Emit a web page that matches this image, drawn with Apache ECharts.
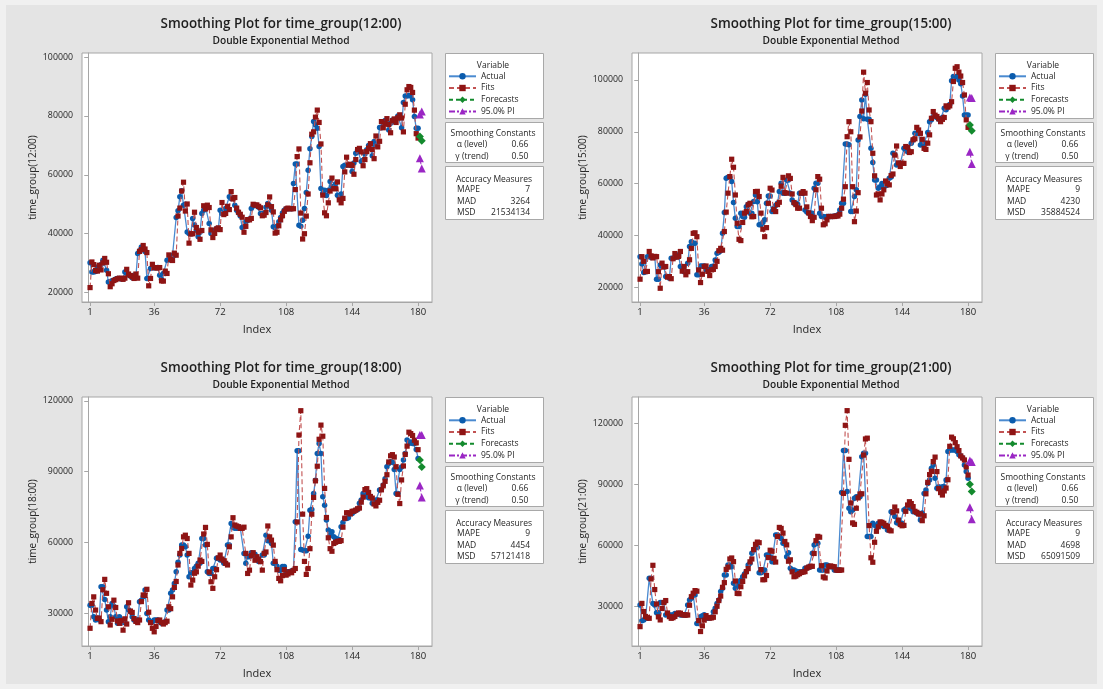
<!DOCTYPE html>
<html><head><meta charset="utf-8">
<script src="https://cdn.jsdelivr.net/npm/echarts@6/dist/echarts.min.js"></script>
<style>html,body{margin:0;padding:0;background:#efefef;}#c{width:1103px;height:689px;}</style>
</head><body><div id="c"></div>
<script>
// ---------- DATA (values in thousands) ----------
const xTickLabels = [1, 36, 72, 108, 144, 180];
const forecastIndex = [181, 182];
const variables = ['12:00', '15:00', '18:00', '21:00'];

const actual1200 = [
30.1,27.0,27.0,27.2,28.7,28.0,29.5,31.0,30.5,27.6,
23.6,23.8,24.0,24.3,24.6,24.8,24.8,24.6,24.8,27.0,
26.5,26.0,25.6,25.0,25.9,25.2,33.3,34.2,35.5,35.0,
34.0,24.8,24.8,28.2,28.4,28.4,28.4,28.5,25.9,24.5,
26.5,26.5,31.0,31.2,31.0,32.7,32.7,45.5,47.8,52.6,
54.6,49.7,50.0,40.6,40.1,40.0,45.2,43.0,41.2,39.0,
40.5,46.9,48.0,49.2,49.0,43.5,40.1,40.1,41.2,41.8,
41.5,48.0,46.9,46.9,48.6,48.3,52.6,52.0,52.2,49.7,
48.0,47.0,46.0,42.1,42.4,44.1,44.5,45.0,48.6,49.4,
49.7,49.4,49.0,46.9,46.5,47.0,49.0,50.3,49.5,48.0,
42.4,42.0,42.5,44.1,45.5,47.0,48.0,48.5,48.5,48.5,
48.5,57.1,63.7,63.7,42.9,42.5,44.6,48.6,54.0,61.6,
68.9,73.0,78.1,77.0,75.8,69.6,55.4,53.7,54.8,53.0,
54.8,57.7,56.0,55.5,57.0,53.1,52.5,53.5,62.8,63.3,
63.3,63.5,63.3,61.1,64.0,67.3,68.5,68.0,64.5,65.0,
67.1,68.5,70.0,69.0,66.5,71.3,70.0,71.0,76.1,76.0,
77.0,78.5,77.5,75.2,77.5,78.6,78.0,79.0,80.0,79.5,
76.0,84.6,86.8,86.8,87.0,86.8,85.5,79.8,75.8,75.8];
const fits1200 = [
21.7,30.4,29.5,27.5,27.3,29.3,27.7,30.1,31.6,30.3,
26.4,22.0,23.0,24.1,24.4,24.7,24.9,24.8,24.5,24.9,
27.9,26.3,25.8,25.4,24.8,26.3,24.9,34.0,34.6,36.0,
34.8,33.6,22.3,24.8,29.6,28.5,28.4,28.4,28.5,24.0,
23.9,27.3,26.5,32.8,31.3,30.9,33.4,32.7,46.0,48.7,
54.5,57.5,47.7,50.1,36.8,39.9,40.0,47.3,42.1,40.5,
38.1,41.1,49.5,48.4,49.7,48.9,41.3,38.7,40.1,41.6,
42.0,41.4,50.6,46.5,46.9,49.3,48.2,54.3,51.8,52.3,
48.7,47.3,46.6,45.6,40.5,42.5,44.8,44.7,45.2,50.0,
49.7,49.8,49.3,48.8,46.1,46.3,47.2,49.8,52.5,49.2,
47.4,40.2,40.5,42.7,44.7,46.1,47.6,48.4,48.7,48.5,
48.5,48.5,55.0,66.2,68.8,47.0,38.2,40.0,46.0,53.5,
64.1,73.8,74.6,79.6,82.0,77.8,70.5,53.1,47.1,46.1,
50.5,54.5,58.9,55.3,55.3,57.6,51.5,50.5,52.0,61.0,
66.0,63.3,63.6,63.2,60.2,65.2,68.6,69.0,67.8,63.1,
65.2,67.9,69.1,70.6,68.6,65.5,73.2,69.5,71.4,78.1,
76.0,77.4,79.1,77.1,74.3,78.4,79.0,77.8,79.4,80.4,
79.3,74.6,84.0,88.9,90.0,89.7,88.0,82.0,74.0,72.5];
const forecast1200 = [73.0, 71.6];
const piUpper1200 = [80.5, 81.5];
const piLower1200 = [65.6, 62.2];

const actual1500 = [
31.8,29.0,25.7,26.0,31.8,32.0,31.5,31.8,31.8,23.1,
23.1,28.6,28.0,28.0,24.1,24.1,23.5,31.2,31.2,31.5,
31.8,32.5,28.0,28.0,26.0,26.0,29.3,35.7,37.6,37.0,
37.0,24.8,24.8,28.2,28.2,28.2,26.7,26.7,26.7,28.0,
28.0,30.5,33.1,33.5,34.1,40.8,48.8,62.1,62.4,62.4,
60.8,52.7,46.6,43.4,43.4,48.6,47.3,47.0,51.1,52.0,
48.6,48.6,53.1,55.6,53.0,44.1,44.1,45.0,46.0,52.4,
55.2,55.2,49.2,50.5,51.5,52.4,56.9,60.1,56.3,56.3,
61.4,61.4,56.3,53.7,52.4,52.4,52.0,56.3,56.3,56.3,
49.8,49.0,48.6,48.6,48.6,58.2,60.1,60.1,48.6,47.3,
47.3,47.0,47.3,47.3,47.3,47.3,47.5,47.5,48.0,49.8,
52.4,52.4,75.3,75.3,75.0,49.2,49.2,55.0,57.6,76.8,
85.9,92.3,85.0,94.5,84.8,84.8,73.6,68.1,61.4,61.4,
58.2,58.8,60.0,59.2,59.2,59.5,62.1,62.5,71.7,71.2,
67.2,67.8,67.8,67.8,73.6,73.0,72.3,72.3,75.6,76.8,
79.4,79.4,79.4,74.9,75.6,75.6,75.6,79.7,83.9,84.6,
85.9,85.9,85.5,84.8,84.8,85.5,89.1,88.5,89.7,90.5,
99.7,101.3,101.3,101.3,100.0,98.5,93.8,86.5,86.5,86.5];
const fits1500 = [
23.1,31.8,30.0,26.0,26.1,33.8,32.1,31.3,31.9,31.8,
26.0,19.6,29.3,27.8,28.0,23.9,24.1,23.3,31.0,33.0,
31.6,31.9,33.8,26.2,28.0,24.8,26.0,30.6,35.0,40.8,
41.0,39.5,26.7,21.8,25.0,28.0,28.2,26.1,24.5,26.7,
26.9,28.0,30.0,34.1,35.0,34.3,41.5,49.0,56.3,62.7,
69.4,66.3,55.6,44.7,38.5,38.0,45.0,48.6,49.2,51.8,
52.4,47.2,47.3,56.9,57.0,55.0,48.6,42.4,39.5,43.0,
52.4,58.2,57.5,50.0,49.2,51.9,52.8,59.0,62.4,56.5,
56.3,63.0,62.0,56.0,52.7,51.9,50.5,50.5,56.3,56.9,
56.3,51.0,48.7,47.3,45.7,47.0,57.6,62.7,61.7,50.5,
44.1,44.5,46.0,47.3,47.3,47.3,47.3,47.5,47.5,48.2,
50.5,54.0,58.8,78.1,83.9,80.0,58.8,45.3,49.4,56.5,
78.0,88.0,103.0,94.9,99.0,88.4,83.9,71.7,63.0,55.6,
56.0,53.7,56.0,57.6,61.0,60.0,59.5,63.1,63.7,71.0,
74.5,68.0,66.6,67.8,67.8,74.3,74.0,72.0,72.3,76.9,
77.3,81.7,80.7,79.4,77.1,73.6,73.2,75.6,78.8,85.2,
87.8,86.4,85.9,85.0,83.9,84.8,85.5,90.0,89.5,90.0,
91.6,99.4,104.5,105.1,103.0,101.5,99.0,94.2,84.6,81.7];
const forecast1500 = [82.6, 80.4];
const piUpper1500 = [93.2, 93.0];
const piLower1500 = [72.3, 67.6];

const actual1800 = [
33.5,33.5,28.6,27.2,28.0,27.2,41.3,41.3,35.9,31.4,
26.5,28.6,34.2,33.0,28.6,25.8,28.6,26.0,27.2,26.0,
32.8,31.5,30.7,28.6,27.2,27.2,27.2,34.9,35.6,37.0,
39.9,30.0,27.2,26.5,26.5,27.2,27.2,27.2,26.5,25.8,
26.0,26.5,31.4,31.4,38.5,39.9,42.7,47.6,51.6,54.7,
58.9,58.9,58.2,54.7,45.5,47.2,47.2,49.0,50.0,51.2,
51.2,61.7,61.7,58.9,47.6,46.9,46.9,49.0,49.0,53.3,
53.3,52.6,52.6,51.2,51.2,58.9,58.9,68.1,66.4,66.0,
66.0,66.0,66.0,66.0,55.4,51.2,54.0,54.0,55.7,55.0,
55.0,53.3,52.0,52.0,54.7,54.7,63.1,60.8,60.8,59.6,
51.2,51.2,50.0,48.3,48.3,49.8,49.8,47.6,47.6,47.6,
48.0,48.3,68.8,98.8,98.8,57.1,56.8,56.5,56.5,62.7,
73.7,74.0,80.8,86.4,97.7,101.9,97.7,79.4,75.8,69.5,
65.3,63.1,64.6,62.4,61.8,61.3,61.3,66.7,68.5,70.2,
70.2,70.5,72.3,72.3,73.0,73.7,74.0,76.6,78.0,80.8,
80.8,79.6,79.0,79.0,76.6,76.6,78.0,78.0,82.2,82.5,
84.3,87.0,92.1,93.5,94.2,94.0,90.9,80.8,80.8,90.9,
92.0,94.9,97.7,103.4,101.9,102.6,101.9,101.9,99.4,95.6];
const fits1800 = [
23.7,34.2,37.0,31.4,27.9,28.0,26.5,40.0,44.4,38.5,
32.8,25.1,27.5,35.6,32.5,26.8,25.8,27.0,22.9,27.7,
25.5,34.5,31.0,30.4,27.8,26.6,26.1,27.2,35.0,37.8,
37.6,40.2,30.5,26.1,23.7,22.2,24.5,27.0,27.2,26.2,
25.5,26.1,26.7,32.8,32.0,37.0,41.0,43.5,50.5,55.4,
57.5,62.4,63.1,61.7,55.4,42.0,44.1,47.0,47.6,50.0,
52.6,52.0,63.6,66.4,59.2,47.5,43.4,40.6,45.5,48.5,
53.5,54.7,53.0,52.3,51.2,50.5,58.2,62.4,70.5,67.4,
67.0,66.7,66.0,66.0,66.5,55.4,46.9,48.3,54.5,55.7,
52.5,54.0,53.0,51.9,48.3,55.4,56.0,67.0,62.4,61.0,
58.9,52.0,48.5,44.8,43.8,46.0,48.5,46.2,46.7,47.6,
47.2,48.2,49.0,68.7,105.5,115.8,72.0,52.0,46.5,49.0,
57.4,72.0,79.1,86.1,92.3,103.7,109.7,105.0,82.9,70.6,
62.0,57.4,56.3,59.6,60.1,60.5,60.5,60.8,66.5,70.3,
72.6,72.6,72.1,73.2,73.3,73.7,74.3,74.6,77.1,79.2,
82.4,82.8,81.2,79.5,78.8,76.3,75.5,77.0,77.9,82.3,
84.0,85.9,88.7,94.1,96.7,97.2,96.2,92.1,80.4,76.5,
86.5,92.4,97.3,100.8,106.7,106.1,105.3,103.3,102.2,99.3];
const forecast1800 = [94.9, 92.0];
const piUpper1800 = [105.5, 105.5];
const piLower1800 = [84.1, 79.1];

const actual2100 = [
30.8,23.1,23.5,24.3,24.3,43.9,43.9,31.6,30.8,27.0,
27.0,32.0,32.0,32.0,25.9,26.5,25.9,25.9,25.9,26.7,
26.7,26.5,25.9,25.9,25.9,25.9,30.8,33.3,34.1,35.7,
35.7,21.8,21.8,25.1,25.5,26.0,24.3,24.3,24.5,24.8,
27.5,29.2,31.6,33.3,37.4,39.0,45.5,45.5,50.5,50.5,
49.6,41.5,39.0,40.1,42.3,43.0,44.7,46.0,47.2,50.5,
51.3,56.2,57.8,59.0,59.0,46.7,46.7,47.2,48.0,55.4,
55.4,54.5,52.0,52.0,65.2,65.2,64.4,63.5,61.1,61.1,
54.5,56.5,48.8,48.0,48.0,47.5,47.2,47.2,47.2,47.2,
48.8,49.0,49.5,49.5,56.2,60.3,61.1,61.1,48.0,48.0,
48.0,50.5,50.5,50.0,49.6,49.6,48.0,48.0,48.0,48.0,
86.0,106.6,106.6,86.5,78.3,76.6,77.5,83.2,84.0,84.0,
84.0,103.6,105.3,105.3,64.4,64.4,64.4,70.9,70.0,69.3,
70.9,70.1,70.1,69.3,69.5,67.6,67.6,76.6,76.0,74.2,
71.2,70.9,70.9,70.9,77.5,78.0,79.1,78.5,78.0,76.6,
76.6,75.8,75.8,72.5,76.0,85.6,87.3,90.5,92.2,97.9,
99.5,93.0,88.1,88.9,87.3,88.9,88.9,92.2,106.1,106.9,
106.9,106.9,106.9,106.1,104.5,104.0,103.0,99.5,96.3,93.0];
const fits2100 = [
20.2,31.6,27.6,25.2,24.6,24.3,43.6,50.3,38.4,31.3,
25.0,23.5,29.1,32.0,33.0,26.9,25.1,24.3,24.6,25.2,
26.3,26.9,26.8,26.1,25.9,25.9,25.9,30.7,34.9,36.6,
37.9,37.6,23.2,17.8,20.6,23.4,25.6,24.7,24.4,24.5,
24.8,27.5,30.2,33.0,35.2,39.5,41.8,48.3,49.4,53.4,
53.9,52.1,42.6,36.5,36.4,39.8,42.4,45.1,47.2,48.7,
52.0,53.4,58.0,60.6,61.7,61.4,48.2,43.2,43.3,45.3,
54.1,57.7,57.2,53.7,51.9,64.4,68.9,68.4,66.1,62.0,
60.3,52.3,53.0,47.1,44.7,45.0,45.7,46.2,46.8,47.0,
47.2,48.9,49.4,49.8,49.8,56.1,62.4,64.5,64.1,50.1,
44.6,44.1,47.5,49.7,50.0,49.7,49.6,48.0,47.8,47.9,
48.0,85.6,119.0,126.2,102.3,80.9,71.1,70.4,78.3,83.4,
85.3,85.4,104.4,112.3,112.7,69.8,54.0,51.8,61.6,67.0,
69.2,71.6,71.4,70.9,69.9,69.5,67.6,67.2,76.4,78.9,
77.0,72.5,70.3,69.7,69.9,76.8,79.9,81.5,80.6,79.1,
76.8,76.3,75.5,75.5,72.2,74.6,85.4,91.0,94.8,96.4,
101.2,103.4,96.3,87.9,86.0,84.8,86.8,88.2,92.3,108.7,
113.2,112.4,110.5,108.5,106.6,104.0,103.0,102.0,98.6,94.6];
const forecast2100 = [90.1, 86.5];
const piUpper2100 = [101.7, 101.0];
const piLower2100 = [78.8, 72.9];

const yTicksLow = [20, 40, 60, 80, 100];
const yTicksHigh = [30, 60, 90, 120];

const alphaLevel = ['0.66', '0.66', '0.66', '0.66'];
const gammaTrend = ['0.50', '0.50', '0.50', '0.50'];
const mapeValues = ['7', '9', '9', '9'];
const madValues = ['3264', '4230', '4454', '4698'];
const msdValues = ['21534134', '35884524', '57121418', '65091509'];

const legendNames = ['Actual', 'Fits', 'Forecasts', '95.0% PI'];

// ---------- LAYOUT / STYLE ----------
const FONT = "'Open Sans','Noto Sans',sans-serif";
const TXT = '#262626';
const AXC = '#a6a6a6';
const C_ACT = '#0b5cad', C_ACT_LINE = '#4a8ad0';
const C_FIT = '#8e1414', C_FIT_LINE = '#c25252';
const C_FC = '#138a2d', C_PI = '#9a26c4';

const panels = [
  {act: actual1200, fit: fits1200, fc: forecast1200, up: piUpper1200, lo: piLower1200, ticks: yTicksLow,
   gx: 82, gy: 53, yMin: 16.8, yMax: 101.4},
  {act: actual1500, fit: fits1500, fc: forecast1500, up: piUpper1500, lo: piLower1500, ticks: yTicksLow,
   gx: 632, gy: 53, yMin: 14.3, yMax: 110.4},
  {act: actual1800, fit: fits1800, fc: forecast1800, up: piUpper1800, lo: piLower1800, ticks: yTicksHigh,
   gx: 82, gy: 397, yMin: 16.2, yMax: 121.6},
  {act: actual2100, fit: fits2100, fc: forecast2100, up: piUpper2100, lo: piLower2100, ticks: yTicksHigh,
   gx: 632, gy: 397, yMin: 10.7, yMax: 132.9}
];
const GW = 350, GH = 249;

function pairs(arr, start) { return arr.map((v, i) => [start + i, v]); }
function pairsAt(arr, idx) { return arr.map((v, i) => [idx[i], v]); }

const grids = [], xAxes = [], yAxes = [], series = [], legends = [], titles = [], graphics = [];

graphics.push({type: 'rect', z: -10, shape: {x: 0, y: 0, width: 1103, height: 5}, style: {fill: '#f0f0f0'}});
graphics.push({type: 'rect', z: -10, shape: {x: 0, y: 0, width: 6, height: 689}, style: {fill: '#f0f0f0'}});
graphics.push({type: 'rect', z: -10, shape: {x: 1097, y: 0, width: 6, height: 689}, style: {fill: '#f0f0f0'}});
graphics.push({type: 'rect', z: -10, shape: {x: 0, y: 684, width: 1103, height: 5}, style: {fill: '#f0f0f0'}});

function txt(x, y, text, opt) {
  return Object.assign({type: 'text', z: 10, x: x, y: y,
    style: Object.assign({text: text, fill: TXT, fontFamily: FONT, fontSize: 8.5,
      align: 'left', verticalAlign: 'middle'}, opt || {})});
}

panels.forEach((p, k) => {
  grids.push({left: p.gx, top: p.gy, width: GW, height: GH, show: true,
    backgroundColor: '#ffffff', borderColor: AXC, borderWidth: 1});
  xAxes.push({gridIndex: k, type: 'value', min: -3.4, max: 187.6,
    name: 'Index', nameLocation: 'middle', nameGap: 22,
    nameTextStyle: {fontSize: 11, color: TXT, fontFamily: FONT},
    axisLine: {show: true, lineStyle: {color: AXC}},
    axisTick: {show: true, length: 4, lineStyle: {color: AXC}, customValues: xTickLabels},
    axisLabel: {fontSize: 9.5, color: TXT, fontFamily: FONT, margin: 5, customValues: xTickLabels},
    splitLine: {show: false}});
  yAxes.push({gridIndex: k, type: 'value', min: p.yMin, max: p.yMax,
    name: 'time_group(' + variables[k] + ')', nameLocation: 'middle', nameGap: 44,
    nameTextStyle: {fontSize: 10, color: TXT, fontFamily: FONT},
    axisLine: {show: true, lineStyle: {color: AXC}},
    axisTick: {show: true, length: 4, lineStyle: {color: AXC}, customValues: p.ticks},
    axisLabel: {fontSize: 8.8, color: TXT, fontFamily: FONT, margin: 9, customValues: p.ticks,
      formatter: v => String(Math.round(v * 1000))},
    splitLine: {show: false}});

  series.push({name: 'Actual', type: 'line', xAxisIndex: k, yAxisIndex: k,
    data: pairs(p.act, 1), symbol: 'circle', symbolSize: 5.5, showAllSymbol: true,
    lineStyle: {color: C_ACT_LINE, width: 1.3}, itemStyle: {color: C_ACT}, z: 2});
  series.push({name: 'Fits', type: 'line', xAxisIndex: k, yAxisIndex: k,
    data: pairs(p.fit, 1), symbol: 'rect', symbolSize: 5.2, showAllSymbol: true,
    lineStyle: {color: C_FIT_LINE, width: 1.1, type: [5, 3]}, itemStyle: {color: C_FIT}, z: 3});
  series.push({name: 'Forecasts', type: 'line', xAxisIndex: k, yAxisIndex: k,
    data: pairsAt(p.fc, forecastIndex), symbol: 'diamond', symbolSize: 8,
    lineStyle: {color: C_FC, width: 1, type: [4, 3]}, itemStyle: {color: C_FC}, z: 4});
  series.push({name: '95.0% PI', type: 'line', xAxisIndex: k, yAxisIndex: k,
    data: pairsAt(p.up, forecastIndex), symbol: 'triangle', symbolSize: 8,
    lineStyle: {color: C_PI, width: 1, type: [6, 2, 2, 2]}, itemStyle: {color: C_PI}, z: 4});
  series.push({name: '95.0% PI', type: 'line', xAxisIndex: k, yAxisIndex: k,
    data: pairsAt(p.lo, forecastIndex), symbol: 'triangle', symbolSize: 8,
    lineStyle: {color: C_PI, width: 1, type: [6, 2, 2, 2]}, itemStyle: {color: C_PI}, z: 4});

  const bx = p.gx + 363, by = p.gy;
  const tcx = p.gx + 199;
  titles.push({text: 'Smoothing Plot for time_group(' + variables[k] + ')',
    subtext: 'Double Exponential Method', left: tcx, top: by - 37, textAlign: 'center', padding: 0,
    itemGap: 3,
    textStyle: {fontSize: 13.4, fontWeight: 600, color: '#1e1e1e', fontFamily: FONT, lineHeight: 16},
    subtextStyle: {fontSize: 10.2, fontWeight: 600, color: '#1e1e1e', fontFamily: FONT, lineHeight: 12}});

  legends.push({orient: 'vertical', left: bx + 3, top: by + 18.3, padding: 0,
    itemWidth: 27, itemHeight: 8, itemGap: 1.7, selectedMode: false,
    textStyle: {fontSize: 8.5, color: TXT, fontFamily: FONT, lineHeight: 10, padding: [0, 0, 0, 0]},
    data: legendNames});

  const box = (y, h) => ({type: 'rect', z: 1, shape: {x: bx + 0.5, y: by + y + 0.5, width: 98, height: h},
    style: {fill: '#ffffff', stroke: '#a8a8a8', lineWidth: 1}});
  graphics.push(box(0, 65), box(69, 40), box(113, 53));
  const d = 1.8;
  graphics.push(txt(bx + 48, by + 10.8 + d, 'Variable', {align: 'center'}));
  graphics.push(txt(bx + 48, by + 78.6 + d, 'Smoothing Constants', {align: 'center'}));
  graphics.push(txt(bx + 27, by + 89.6 + d, 'α (level)', {align: 'center'}));
  graphics.push(txt(bx + 75, by + 89.6 + d, alphaLevel[k], {align: 'center'}));
  graphics.push(txt(bx + 27, by + 101.5 + d, 'γ (trend)', {align: 'center'}));
  graphics.push(txt(bx + 75, by + 101.5 + d, gammaTrend[k], {align: 'center'}));
  graphics.push(txt(bx + 49, by + 124.3 + d, 'Accuracy Measures', {align: 'center'}));
  graphics.push(txt(bx + 12, by + 134.7 + d, 'MAPE'));
  graphics.push(txt(bx + 85, by + 134.7 + d, mapeValues[k], {align: 'right'}));
  graphics.push(txt(bx + 12, by + 146.5 + d, 'MAD'));
  graphics.push(txt(bx + 85, by + 146.5 + d, madValues[k], {align: 'right'}));
  graphics.push(txt(bx + 12, by + 158.2 + d, 'MSD'));
  graphics.push(txt(bx + 85, by + 158.2 + d, msdValues[k], {align: 'right'}));
});

const chart = echarts.init(document.getElementById('c'));
chart.setOption({
  backgroundColor: '#e4e4e4',
  animation: false,
  title: titles,
  legend: legends,
  grid: grids,
  xAxis: xAxes,
  yAxis: yAxes,
  series: series,
  graphic: {elements: graphics}
});
</script></body></html>
